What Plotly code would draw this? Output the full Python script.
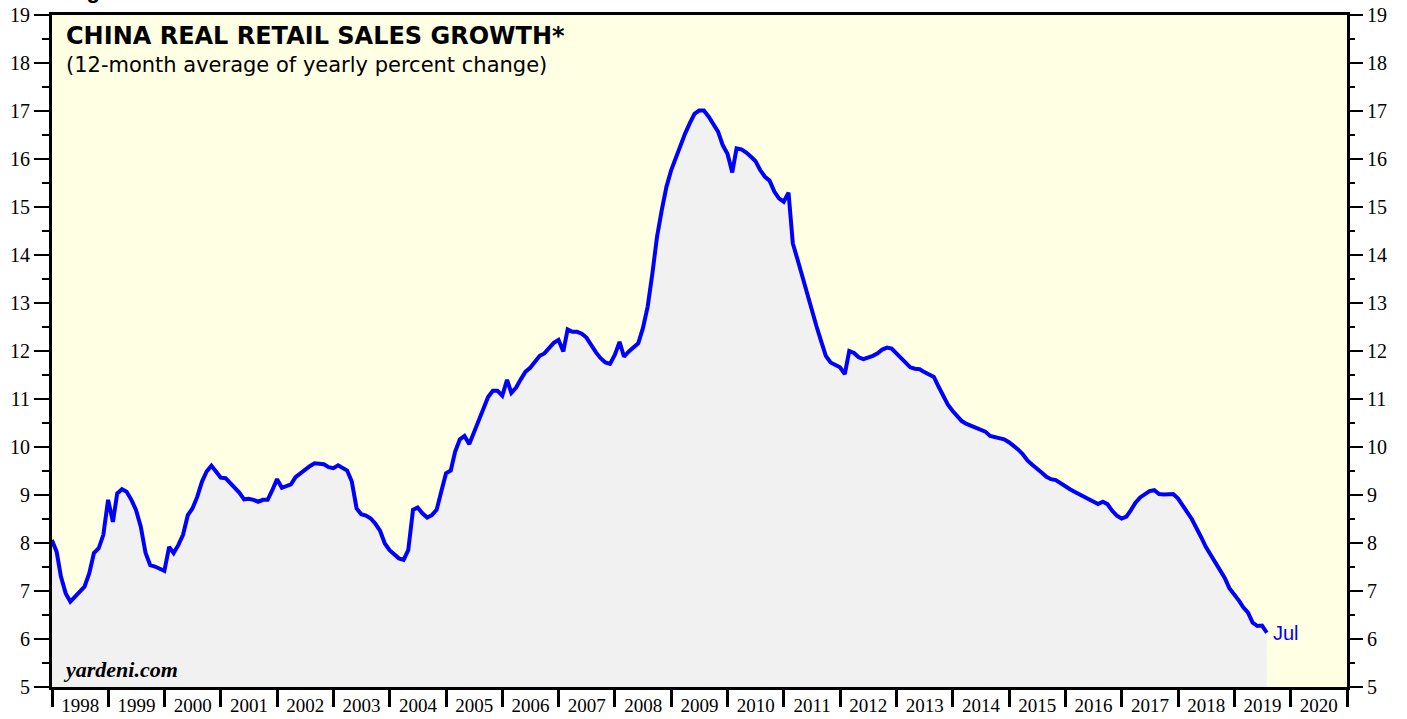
import pandas as pd
import plotly.graph_objects as go

# ---------------- data ----------------
title_text = "CHINA REAL RETAIL SALES GROWTH*"
subtitle_text = "(12-month average of yearly percent change)"
source_text = "yardeni.com"
figure_text = "Figure 1."
last_label = "Jul"

# first month-end of the series (Dec 1997), monthly to Jul 2019
first_month_start = "1998-01-01"

retail_growth = [
    # Dec 1997 - Apr 2001
    8.06, 7.82, 7.30, 6.95, 6.78, 6.88, 6.98, 7.09, 7.37, 7.79, 7.89, 8.17, 8.90, 8.44,
    9.03, 9.12, 9.07, 8.90, 8.69, 8.34, 7.79, 7.54, 7.51, 7.47, 7.42, 7.92, 7.79, 7.96,
    8.17, 8.58, 8.72, 8.96, 9.28, 9.49, 9.61, 9.49, 9.36, 9.35, 9.26, 9.17, 9.05,
    # May 2001 - Aug 2004
    8.91, 8.92, 8.90, 8.86, 8.90, 8.90, 9.10, 9.33, 9.15, 9.18, 9.22, 9.37, 9.45, 9.53,
    9.60, 9.66, 9.65, 9.64, 9.58, 9.56, 9.62, 9.56, 9.51, 9.28, 8.72, 8.60, 8.57, 8.51,
    8.40, 8.25, 7.99, 7.85, 7.75, 7.68, 7.65, 7.85, 8.69, 8.74, 8.62, 8.53,
    # Sep 2004 - Jan 2008
    8.58, 8.69, 9.07, 9.45, 9.51, 9.90, 10.16, 10.23, 10.06, 10.29, 10.53, 10.77, 11.04,
    11.17, 11.17, 11.07, 11.40, 11.13, 11.24, 11.41, 11.57, 11.65, 11.79, 11.90, 11.95,
    12.05, 12.17, 12.23, 11.99, 12.45, 12.40, 12.40, 12.36, 12.28, 12.12, 11.97, 11.85,
    11.76, 11.73, 11.92, 12.19,
    # Feb 2008 - Feb 2011
    11.88, 11.99, 12.08, 12.16, 12.47, 12.92, 13.62, 14.38, 14.94, 15.42, 15.77, 16.05,
    16.29, 16.53, 16.74, 16.94, 17.01, 17.01, 16.88, 16.71, 16.57, 16.29, 16.11, 15.72,
    16.22, 16.20, 16.14, 16.05, 15.96, 15.77, 15.63, 15.55, 15.32, 15.18, 15.11, 15.30,
    14.24,
    # Mar 2011 - May 2014
    13.90, 13.55, 13.20, 12.85, 12.52, 12.20, 11.90, 11.76, 11.72, 11.66, 11.52, 12.00,
    11.96, 11.87, 11.83, 11.86, 11.90, 11.95, 12.03, 12.07, 12.05, 11.95, 11.85, 11.75,
    11.66, 11.63, 11.62, 11.56, 11.50, 11.46, 11.26, 11.05, 10.88, 10.75, 10.63, 10.54,
    10.48, 10.44, 10.38,
    # Jun 2014 - Jul 2019
    10.35, 10.32, 10.23, 10.21, 10.20, 10.16, 10.10, 10.03, 9.95, 9.85, 9.72, 9.63,
    9.56, 9.47, 9.38, 9.33, 9.31, 9.24, 9.17, 9.12, 9.07, 9.02, 8.96, 8.90, 8.85, 8.81,
    8.86, 8.81, 8.67, 8.57, 8.51, 8.55, 8.68, 8.84, 8.95, 9.02, 9.08, 9.10, 9.02, 9.01,
    9.02, 9.02, 8.93, 8.80, 8.65, 8.50, 8.33, 8.12, 7.92, 7.75, 7.61, 7.45, 7.27, 7.06,
    6.94, 6.80, 6.66, 6.55, 6.34, 6.27, 6.28, 6.13,
]

y_ticks = list(range(5, 20))
x_range = ["1998-01-01", "2021-01-01"]

# month-end dates
dates = pd.date_range(first_month_start, periods=len(retail_growth), freq="MS") - pd.Timedelta(days=1)

# ---------------- figure ----------------
W, H = 1407, 719
ML, MR, MT, MB = 52, 60, 15, 32
PW, PH = W - ML - MR, H - MT - MB


def px_x(px):
    return (px - ML) / PW


def px_y(py):
    return (H - MB - py) / PH


BLUE = "#0000FF"
serif = "Liberation Serif"

fig = go.Figure()
fig.add_trace(go.Scatter(
    x=dates, y=retail_growth, mode="lines",
    line=dict(color=BLUE, width=4),
    fill="tozeroy", fillcolor="#F1F1F1",
    hoverinfo="skip", showlegend=False,
))
# invisible trace to anchor the right-hand axis
fig.add_trace(go.Scatter(
    x=[dates[0]], y=[None], yaxis="y2", mode="lines",
    showlegend=False, hoverinfo="skip",
))

yaxis_common = dict(
    range=[5, 19], tickvals=y_ticks, ticks="outside", ticklen=15, tickwidth=2,
    tickcolor="black", showgrid=False, zeroline=False, automargin=False,
    tickfont=dict(family=serif, size=20, color="black"),
    minor=dict(dtick=0.5, ticks="outside", ticklen=7, tickwidth=2,
               tickcolor="black", showgrid=False),
)

fig.update_layout(
    width=W, height=H, autosize=False,
    margin=dict(l=ML, r=MR, t=MT, b=MB, pad=0, autoexpand=False),
    plot_bgcolor="#FFFFE3", paper_bgcolor="white",
    showlegend=False,
    xaxis=dict(
        type="date", range=x_range, tick0="1998-01-01", dtick="M12",
        tickformat="%Y", ticklabelmode="period", automargin=False,
        ticks="outside", ticklen=17, tickwidth=3, tickcolor="black",
        showline=True, linewidth=3, linecolor="black", mirror=True,
        showgrid=False, zeroline=False,
        tickfont=dict(family=serif, size=19, color="black"),
        ticklabelstandoff=-18,
    ),
    yaxis=dict(**yaxis_common, showline=True, linewidth=3, linecolor="black", mirror=True),
    yaxis2=dict(**yaxis_common, overlaying="y", side="right", showline=False),
)

annotations = [
    dict(text=f"<b>{title_text}</b>", x=px_x(64), y=px_y(20), xanchor="left", yanchor="top",
         font=dict(family="DejaVu Sans", size=24, color="black")),
    dict(text=subtitle_text, x=px_x(64), y=px_y(51), xanchor="left", yanchor="top",
         font=dict(family="DejaVu Sans", size=21, color="black")),
    dict(text=f"<b><i>{source_text}</i></b>", x=px_x(61), y=px_y(684), xanchor="left", yanchor="bottom",
         font=dict(family=serif, size=22, color="black")),
    dict(text=f"<b>{figure_text}</b>", x=px_x(65), y=px_y(5), xanchor="left", yanchor="bottom",
         font=dict(family="Liberation Sans", size=22, color="black")),
]
for a in annotations:
    a.update(xref="paper", yref="paper", showarrow=False)
    fig.add_annotation(**a)

fig.add_annotation(
    text=last_label, x=dates[-1], y=retail_growth[-1], xref="x", yref="y",
    xanchor="left", yanchor="middle", xshift=4, showarrow=False,
    font=dict(family="Liberation Sans", size=20, color=BLUE),
)

fig.write_html("out.html", config={"displayModeBar": False},
               post_script="document.body.style.margin='0';")
